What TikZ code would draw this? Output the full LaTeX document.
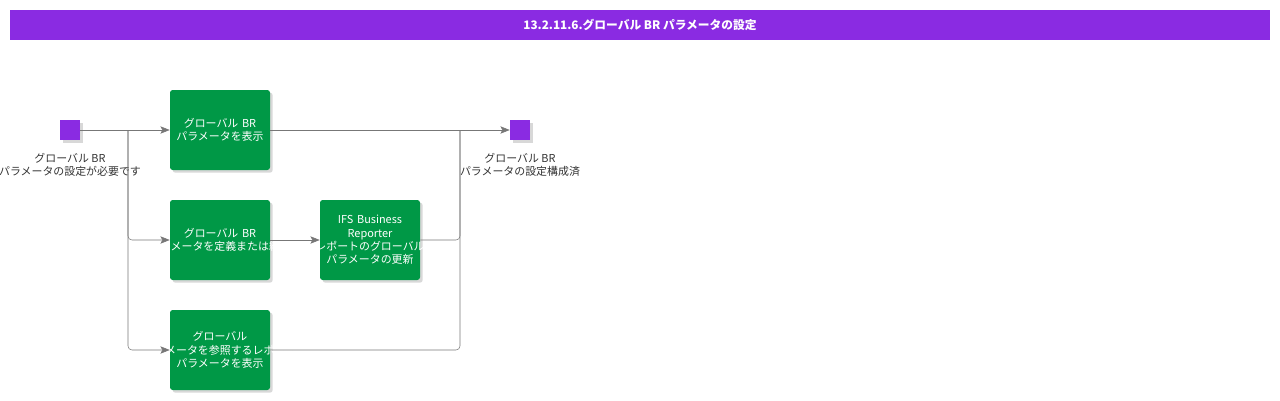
\documentclass[tikz,border=0pt]{standalone}
\usepackage{fontspec}
\setmainfont{Noto Sans CJK JP}
\usetikzlibrary{shadows,arrows.meta}
\definecolor{bpurple}{HTML}{8A2BE2}
\definecolor{bgreen}{HTML}{009846}
\definecolor{lgray}{HTML}{777777}
\definecolor{dtext}{HTML}{333333}
\newcommand{\boxline}[1]{\makebox[75pt]{#1}}

\begin{document}
\begin{tikzpicture}[x=0.75pt,y=-0.75pt,
    task/.style={fill=bgreen,rounded corners=2pt,minimum width=75pt,minimum height=60pt,inner sep=0pt,
      text width=75pt,text=white,align=center,font=\fontsize{8.2}{9.9}\selectfont,
      drop shadow={shadow xshift=2pt,shadow yshift=-2pt,fill=black!30}},
    event/.style={fill=bpurple,minimum size=15pt,inner sep=0pt,
      drop shadow={shadow xshift=2pt,shadow yshift=-2pt,fill=black!30}},
    caption/.style={text=dtext,align=center,font=\fontsize{8.2}{9.9}\selectfont},
    flow/.style={draw=lgray,-{Stealth[length=7pt,width=5.5pt,inset=1.5pt]},rounded corners=3pt},
    mergeline/.style={draw=lgray,rounded corners=3pt}]
      % \draw[help lines](0,0) grid (1280,400);
      \useasboundingbox (0,0) rectangle (1280,400);

      \draw (640,25) node[fill=bpurple,minimum width=945pt,minimum height=22.5pt,text=white,
        font=\fontsize{8.8}{11}\selectfont\bfseries] (title) {13.2.11.6.グローバル BR パラメータの設定};

      \draw (70,130) node[event] (start) {};
      \draw (70,165) node[caption] (startText) {グローバル BR\\パラメータの設定が必要です};
      \draw (520,130) node[event] (done) {};
      \draw (520,165) node[caption] (doneText) {グローバル BR\\パラメータの設定構成済};

      \draw (220,130) node[task] (showParams) {\boxline{グローバル BR}\\\boxline{パラメータを表示}};
      \draw (220,240) node[task] (editParams) {\boxline{グローバル BR}\\\boxline{パラメータを定義または編集}};
      \draw (220,350) node[task] (reportParams) {\boxline{グローバル}\\\boxline{パラメータを参照するレポート}\\\boxline{パラメータを表示}};
      \draw (370,240) node[task] (updateParams) {\boxline{IFS Business}\\\boxline{Reporter}\\\boxline{レポートのグローバル}\\\boxline{パラメータの更新}};

      \coordinate (split) at (128,130);
      \coordinate (merge) at (460,130);

      \draw[flow] (start) -- (showParams);
      \draw[flow] (split) |- (editParams);
      \draw[flow] (split) |- (reportParams);
      \draw[flow] (editParams) -- (updateParams);
      \draw[flow] (showParams) -- (done);
      \draw[mergeline] (updateParams) -| (merge);
      \draw[mergeline] (reportParams) -| (merge);
    \end{tikzpicture}
\end{document}
